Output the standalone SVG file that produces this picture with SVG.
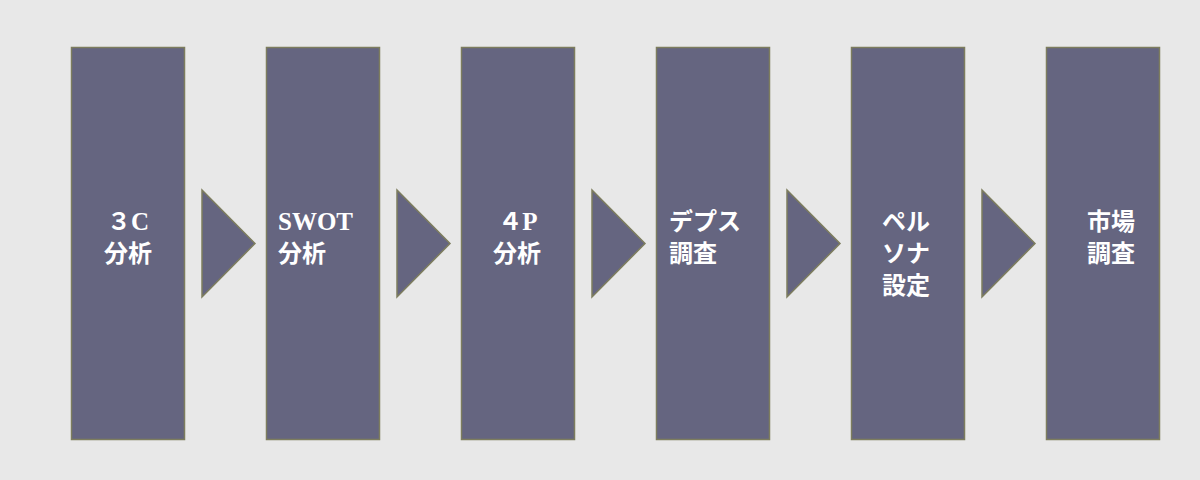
<svg xmlns="http://www.w3.org/2000/svg" width="1200" height="480" viewBox="0 0 1200 480">
<style>
.box{fill:#656580;stroke:#7d7d5e;stroke-width:1.5}
.arr{fill:#656580;stroke:#7d7d5e;stroke-width:1.5}
.t{fill:#ffffff;font-family:"Noto Sans CJK JP","Noto Sans",sans-serif;font-size:24px;font-weight:bold}
.s{font-family:"Liberation Serif","Noto Sans CJK JP",serif;font-weight:bold;font-size:25px}
.m{text-anchor:middle}
</style>
<rect width="1200" height="480" fill="#e8e8e8"/>
<g id="connectors">
<polygon class="arr" points="202,190 255,243.5 202,297"/>
<polygon class="arr" points="397,190 450,243.5 397,297"/>
<polygon class="arr" points="592,190 645,243.5 592,297"/>
<polygon class="arr" points="787,190 840,243.5 787,297"/>
<polygon class="arr" points="982,190 1035,243.5 982,297"/>
</g>
<g id="n1"><rect class="box" x="71.5" y="47.5" width="113" height="392"/>
<text class="t m" x="128" y="230">３<tspan class="s">C</tspan></text>
<text class="t m" x="128" y="262">分析</text></g>
<g id="n2"><rect class="box" x="266.5" y="47.5" width="113" height="392"/>
<text class="t" x="278" y="230"><tspan class="s">SWOT</tspan></text>
<text class="t" x="278" y="262">分析</text></g>
<g id="n3"><rect class="box" x="461.5" y="47.5" width="113" height="392"/>
<text class="t m" x="518" y="230">４<tspan class="s">P</tspan></text>
<text class="t m" x="517" y="262">分析</text></g>
<g id="n4"><rect class="box" x="656.5" y="47.5" width="113" height="392"/>
<text class="t" x="669" y="230">デプス</text>
<text class="t" x="669" y="262">調査</text></g>
<g id="n5"><rect class="box" x="851.5" y="47.5" width="113" height="392"/>
<text class="t" x="882" y="230">ペル</text>
<text class="t" x="882" y="262">ソナ</text>
<text class="t" x="882" y="294">設定</text></g>
<g id="n6"><rect class="box" x="1046.5" y="47.5" width="113" height="392"/>
<text class="t" x="1087" y="230">市場</text>
<text class="t" x="1087" y="262">調査</text></g>
</svg>
